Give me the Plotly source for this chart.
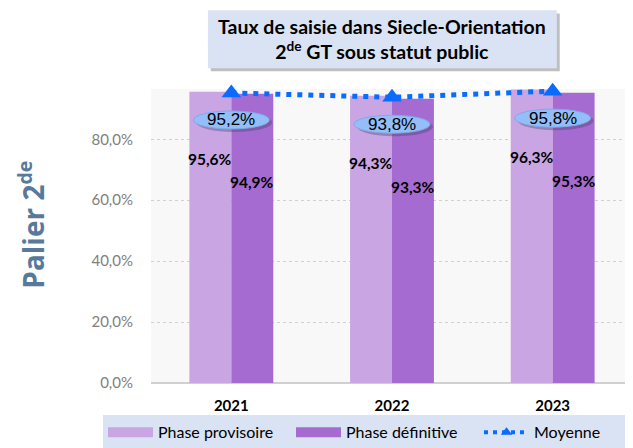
import plotly.graph_objects as go

# Donnees
annees = ["2021", "2022", "2023"]
provisoire = [0.956, 0.943, 0.963]
definitive = [0.949, 0.933, 0.953]
moyenne = [0.952, 0.938, 0.958]

COL_PROV = "#c9a5e3"
COL_DEF = "#a66bd0"
COL_MOY = "#0a6cff"
FONT = "Lato"
DOTS = "5px,6px"

fig = go.Figure()

# Barres
fig.add_trace(go.Bar(
    x=annees, y=provisoire, name="Phase provisoire",
    marker_color=COL_PROV, marker_line_width=0, showlegend=False,
    hoverinfo="skip",
))
fig.add_trace(go.Bar(
    x=annees, y=definitive, name="Phase définitive",
    marker_color=COL_DEF, marker_line_width=0, showlegend=False,
    hoverinfo="skip",
))

# Moyenne (pointillés + triangles)
fig.add_trace(go.Scatter(
    x=annees, y=moyenne, name="Moyenne", mode="lines+markers",
    line=dict(color=COL_MOY, width=5, dash=DOTS),
    marker=dict(symbol="triangle-up", size=17, color=COL_MOY),
    cliponaxis=False, showlegend=False,
))

# Entrees de legende (swatches larges)
fig.add_trace(go.Scatter(x=[None], y=[None], mode="lines", name="Phase provisoire",
                         line=dict(color=COL_PROV, width=10)))
fig.add_trace(go.Scatter(x=[None], y=[None], mode="lines", name="Phase définitive",
                         line=dict(color=COL_DEF, width=10)))
fig.add_trace(go.Scatter(x=[None], y=[None], mode="lines+markers", name="Moyenne",
                         line=dict(color=COL_MOY, width=4, dash="4px,5px"),
                         marker=dict(symbol="triangle-up", size=10, color=COL_MOY)))

shapes = []
annotations = []

# Etiquettes des barres (x = indice de la categorie)
for i, (p, d) in enumerate(zip(provisoire, definitive)):
    annotations.append(dict(
        x=i, y=p, xref="x", yref="y", text=f"{p*100:.1f}%".replace(".", ","),
        showarrow=False, xshift=-21, yshift=-67,
        font=dict(family=FONT, size=15.5, color="black", weight="bold"),
    ))
    annotations.append(dict(
        x=i, y=d, xref="x", yref="y", text=f"{d*100:.1f}%".replace(".", ","),
        showarrow=False, xshift=21, yshift=-88,
        font=dict(family=FONT, size=15.5, color="black", weight="bold"),
    ))

# Bulles de la moyenne
for i, m in enumerate(moyenne):
    shapes.append(dict(
        type="circle", xref="x", yref="y", layer="above",
        xsizemode="pixel", ysizemode="pixel", xanchor=i, yanchor=m,
        x0=-35, x1=41, y0=-39, y1=-20,
        fillcolor="rgba(60,60,90,0.35)", line_width=0,
    ))
    shapes.append(dict(
        type="circle", xref="x", yref="y", layer="above",
        xsizemode="pixel", ysizemode="pixel", xanchor=i, yanchor=m,
        x0=-38, x1=38, y0=-36, y1=-18,
        fillcolor="#93bef8", line=dict(color="#7eaaea", width=1),
    ))
    annotations.append(dict(
        x=i, y=m, xref="x", yref="y", text=f"{m*100:.1f}%".replace(".", ","),
        showarrow=False, yshift=-27,
        font=dict(family="Liberation Sans", size=17, color="black"),
    ))

# Cadre du titre
shapes.append(dict(type="rect", xref="paper", yref="paper",
                   x0=0.124, x1=0.848, y0=1.060, y1=1.257,
                   fillcolor="rgba(0,0,0,0.25)", line_width=0))
shapes.append(dict(type="rect", xref="paper", yref="paper",
                   x0=0.118, x1=0.842, y0=1.071, y1=1.268,
                   fillcolor="#dae3f3", line_width=0))
annotations.append(dict(
    x=0.48, y=1.170, xref="paper", yref="paper", showarrow=False,
    yanchor="middle",
    text="Taux de saisie dans Siecle-Orientation<br>2<sup>de</sup> GT sous statut public",
    font=dict(family=FONT, size=19.5, color="black", weight="bold"),
))

# Titre de l'axe Y
annotations.append(dict(
    x=-0.248, y=0.54, xref="paper", yref="paper", showarrow=False,
    xanchor="center", yanchor="middle",
    text="Palier 2<sup>de</sup>", textangle=-90,
    font=dict(family="Open Sans", size=28, color="#58799a", weight="bold"),
))

fig.update_layout(
    width=625, height=440,
    margin=dict(l=143, r=0, t=81, b=65, autoexpand=False),
    paper_bgcolor="white", plot_bgcolor="#f8f8f8",
    barmode="group", bargap=0.478, bargroupgap=0,
    separators=", ",
    font=dict(family=FONT),
    shapes=shapes, annotations=annotations,
    showlegend=True,
    legend=dict(
        orientation="h", x=-0.0996, y=-0.11, xanchor="left", yanchor="top",
        bgcolor="#dae3f3", itemwidth=45, entrywidth=128,
        font=dict(family=FONT, size=16, color="black"),
    ),
    xaxis=dict(
        type="category", range=[-0.5, 2.5], showgrid=False, ticks="",
        ticklabelstandoff=12,
        tickfont=dict(family=FONT, size=15, color="black", weight="bold"),
    ),
    yaxis=dict(
        range=[0, 0.965], tickvals=[0, 0.2, 0.4, 0.6, 0.8], tickformat=".1%",
        showgrid=True, gridcolor="#d0d0d0", griddash="dot", gridwidth=1,
        zeroline=True, zerolinecolor="#d0d0d0", zerolinewidth=1.5,
        ticks="outside", ticklen=14, tickcolor="rgba(0,0,0,0)",
        tickfont=dict(family=FONT, size=15, color="#808080"),
    ),
)

fig.write_html("out.html")
